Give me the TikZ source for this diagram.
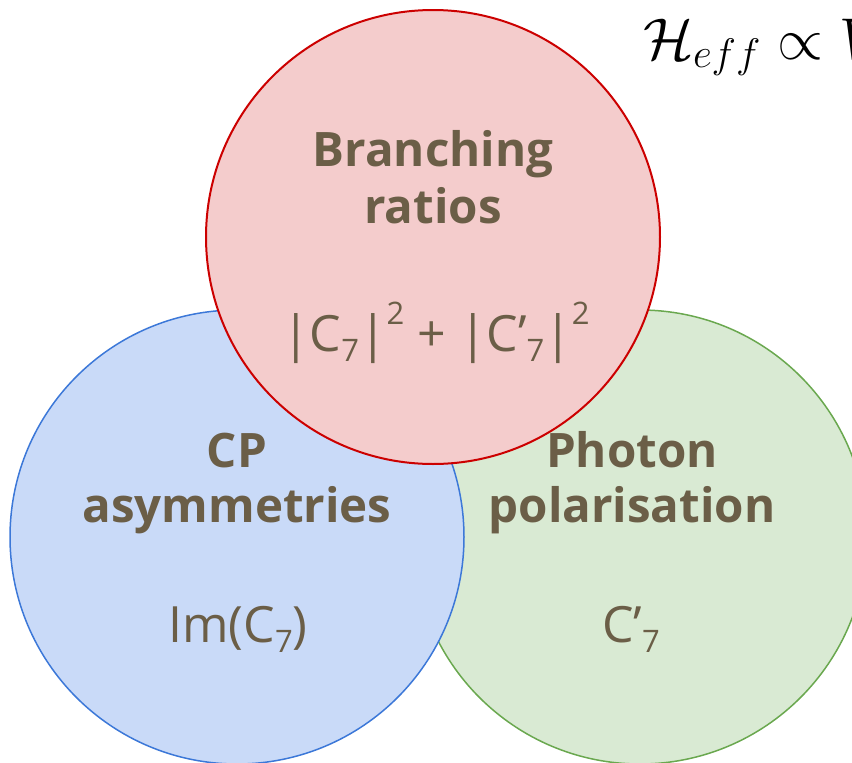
\RequirePackage{fix-cm}
\documentclass[tikz,border=0pt]{standalone}
\usepackage{amsmath}
\usepackage{fontspec}
\setmainfont{Open Sans}
\usepackage{tikz}
\usetikzlibrary{positioning}

\definecolor{brfill}{RGB}{244,204,204}
\definecolor{brline}{RGB}{204,0,0}
\definecolor{cpfill}{RGB}{201,218,248}
\definecolor{cpline}{RGB}{60,120,216}
\definecolor{phfill}{RGB}{217,234,211}
\definecolor{phline}{RGB}{106,168,79}
\definecolor{vtext}{RGB}{107,94,71}

% small index below / above the line
\newcommand{\lowidx}[1]{\raisebox{-10pt}{\fontsize{31}{31}\selectfont #1}}
\newcommand{\highidx}[1]{\raisebox{27pt}{\fontsize{31}{31}\selectfont #1}}

\begin{document}
\begin{tikzpicture}[x=1pt, y=-1pt,
    venn/.style={circle, minimum size=454pt, inner sep=0pt, line width=1.5pt},
    head/.style={text=vtext, font=\fontsize{47.5}{47.5}\selectfont\bfseries, anchor=base, inner sep=0pt},
    coef/.style={text=vtext, font=\fontsize{50}{50}\selectfont, anchor=base, inner sep=0pt}]
    \clip (0,0) rectangle (852,763);

    % the three sets, red one on top
    \node[venn, draw=phline, fill=phfill] (ph) at (640,537) {};
    \node[venn, draw=cpline, fill=cpfill] (cp) at (237,537) {};
    \node[venn, draw=brline, fill=brfill, line width=2pt] (br) at (433,237) {};

    \node[head] (brtop) at (433,166) {Branching};
    \node[head] (brbot) at (433,223) {ratios};
    \node[coef] (brcoef) at (436,351) {|C\lowidx{7}|\highidx{2} + |C'\lowidx{7}|\highidx{2}};

    \node[head] (cptop) at (237,467) {CP};
    \node[head] (cpbot) at (237,522) {asymmetries};
    \node[coef] (cpcoef) at (238,642) {Im(C\lowidx{7})};

    \node[head] (phtop) at (632,467) {Photon};
    \node[head] (phbot) at (632,522) {polarisation};
    \node[coef] (phcoef) at (631,642) {C'\lowidx{7}};

    \node[anchor=base west, inner sep=0pt, font=\fontsize{59}{59}\selectfont] (heff) at (643,59) {$\mathcal{H}_{eff} \propto V$};
\end{tikzpicture}
\end{document}
